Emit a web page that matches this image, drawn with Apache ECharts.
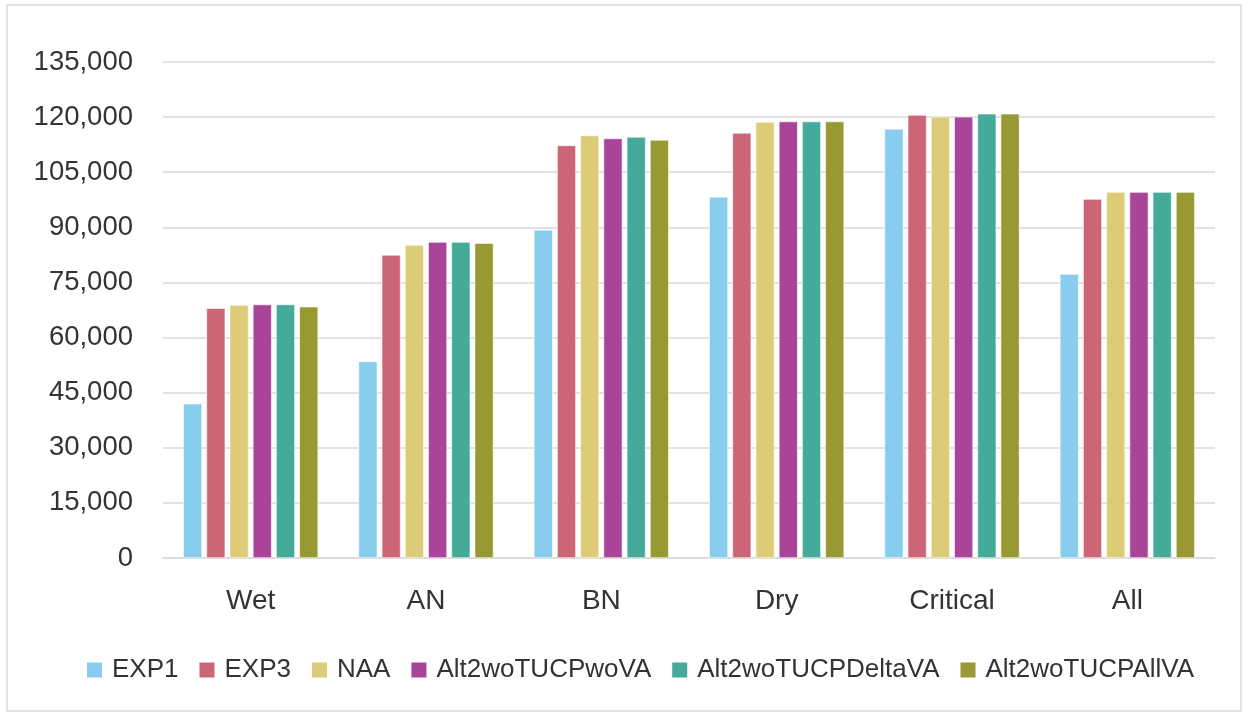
<!DOCTYPE html>
<html>
<head>
<meta charset="utf-8">
<script src="https://cdn.jsdelivr.net/npm/echarts@6/dist/echarts.min.js"></script>
<style>
html, body { margin: 0; padding: 0; background: #fff; }
#chart { width: 1249px; height: 717px; }
</style>
</head>
<body>
<div id="chart"></div>
<script>
// categories and series values
var categories = ['Wet', 'AN', 'BN', 'Dry', 'Critical', 'All'];
var seriesNames = ['EXP1', 'EXP3', 'NAA', 'Alt2woTUCPwoVA', 'Alt2woTUCPDeltaVA', 'Alt2woTUCPAllVA'];
var exp1 = [42000, 53500, 89300, 98300, 116800, 77300];
var exp3 = [68000, 82500, 112300, 115700, 120600, 97700];
var naa = [68900, 85200, 115000, 118700, 120100, 99600];
var woVA = [69000, 86000, 114200, 118800, 120100, 99600];
var deltaVA = [69000, 86000, 114600, 118800, 120900, 99600];
var allVA = [68400, 85700, 113800, 118800, 120900, 99600];
var yTicks = [0, 135000, 15000]; // min, max, interval

var colors = ['#88ccee', '#cc6677', '#ddcc77', '#aa4499', '#44aa99', '#999933'];
var dataArr = [exp1, exp3, naa, woVA, deltaVA, allVA];
var fontFam = 'Liberation Sans, Arial, sans-serif';
var txtColor = '#333333';

var myChart = echarts.init(document.getElementById('chart'));

var seriesArr = seriesNames.map(function (name, i) {
	return {
		name: name,
		type: 'bar',
		data: dataArr[i],
		barGap: '23%',
		barCategoryGap: '23%',
		itemStyle: { color: colors[i], borderColor: '#ffffff', borderWidth: 0.6 },
		animation: false
	};
});

var option = {
	color: colors,
	animation: false,
	graphic: [{
		type: 'rect',
		shape: { x: 7, y: 5, width: 1234, height: 706 },
		style: { fill: 'none', stroke: '#d9d9d9', lineWidth: 1.5 },
		silent: true
	}],
	grid: { left: 163, right: 34, top: 62, bottom: 159 },
	legend: {
		top: 652,
		left: 80,
		itemWidth: 17,
		itemHeight: 17,
		itemGap: 19,
		icon: 'rect',
		textStyle: { fontFamily: fontFam, fontSize: 26, color: txtColor, padding: [0, 0, 0, 4] },
		data: seriesNames
	},
	xAxis: {
		type: 'category',
		data: categories,
		axisLine: { lineStyle: { color: '#d9d9d9', width: 1.5 } },
		axisTick: { show: false },
		axisLabel: { fontFamily: fontFam, fontSize: 28, color: txtColor, margin: 29 }
	},
	yAxis: {
		type: 'value',
		min: yTicks[0],
		max: yTicks[1],
		interval: yTicks[2],
		axisLine: { show: false },
		axisTick: { show: false },
		splitLine: { lineStyle: { color: '#d9d9d9', width: 1.5 } },
		axisLabel: {
			fontFamily: fontFam, fontSize: 27.5, color: txtColor, margin: 30,
			formatter: function (v) { return v.toLocaleString('en-US'); }
		}
	},
	series: seriesArr
};

myChart.setOption(option);
</script>
</body>
</html>
